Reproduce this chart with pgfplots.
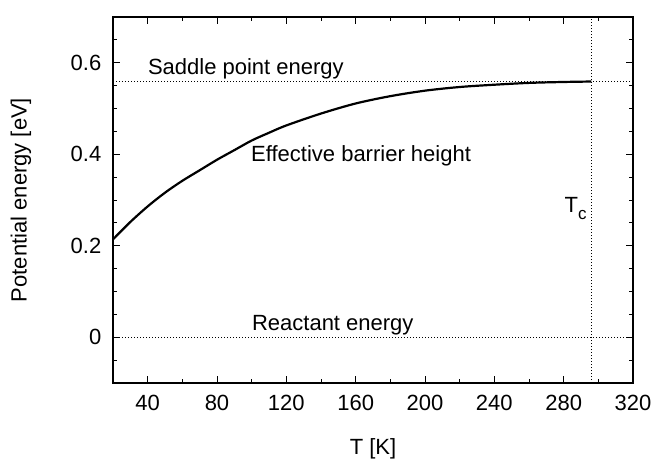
\documentclass[border=0pt]{standalone}
\usepackage{fontspec}
\setmainfont{Liberation Sans}
\usepackage{pgfplots}
\pgfplotsset{compat=1.18}

\begin{document}
\begin{tikzpicture}
\fontsize{11}{13}\selectfont
\begin{axis}[
  scale only axis,
  width=260pt, height=183pt,
  xmin=20, xmax=320, ymin=-0.1, ymax=0.7,
  xtick={40,80,...,320},
  minor xtick={20,60,...,300},
  ytick={0,0.2,0.4,0.6},
  minor ytick={-0.05,0.05,0.1,0.15,0.25,0.3,0.35,0.45,0.5,0.55,0.65},
  tick align=inside,
  major tick length=3.5pt,
  minor tick length=2pt,
  tick style={black, line width=0.5pt},
  axis line style={line width=0.7pt},
  /pgf/number format/assume math mode=true,
  ticklabel style={font=\fontsize{11}{13}\selectfont},
  xticklabel style={yshift=-2pt},
  yticklabel style={xshift=-2pt},
  xlabel={T [K]},
  ylabel={Potential energy [eV]},
  label style={font=\fontsize{11}{13}\selectfont},
  xlabel style={at={(axis description cs:0.5,0)}, anchor=center, yshift=-33pt},
  ylabel style={at={(axis description cs:0,0.5)}, anchor=center, yshift=46pt},
  clip=false,
]
% reference levels
\addplot[black, dash pattern=on 0.6pt off 0.9pt, line width=0.6pt] coordinates {(20,0.559) (320,0.559)};
\addplot[black, dash pattern=on 0.6pt off 0.9pt, line width=0.6pt] coordinates {(20,0) (320,0)};
\addplot[black, dash pattern=on 0.6pt off 0.9pt, line width=0.6pt] coordinates {(296,-0.1) (296,0.7)};
% effective barrier height
\addplot[black, line width=1.1pt, smooth] coordinates {
  (20,0.214) (30,0.252) (40,0.286) (50,0.316) (60,0.342) (70,0.365)
  (80,0.388) (90,0.409) (100,0.430) (110,0.447) (120,0.463)
  (140,0.489) (160,0.511) (180,0.527) (200,0.539) (220,0.547)
  (240,0.552) (260,0.556) (280,0.558) (296,0.559)
};
\node[anchor=base west, inner sep=0pt] at (axis cs:40,0.574) {Saddle point energy};
\node[anchor=base west, inner sep=0pt] at (axis cs:99.5,0.384) {Effective barrier height};
\node[anchor=base west, inner sep=0pt] at (axis cs:100,0.015) {Reactant energy};
\node[anchor=base east, inner sep=0pt] at (axis cs:293.5,0.273) {T\raisebox{-3.5pt}{\fontsize{8.5}{10}\selectfont c}};
\end{axis}
\pgfresetboundingbox
\path (-56.5pt,-39.5pt) rectangle (271.5pt,191.5pt);
\end{tikzpicture}
\end{document}
